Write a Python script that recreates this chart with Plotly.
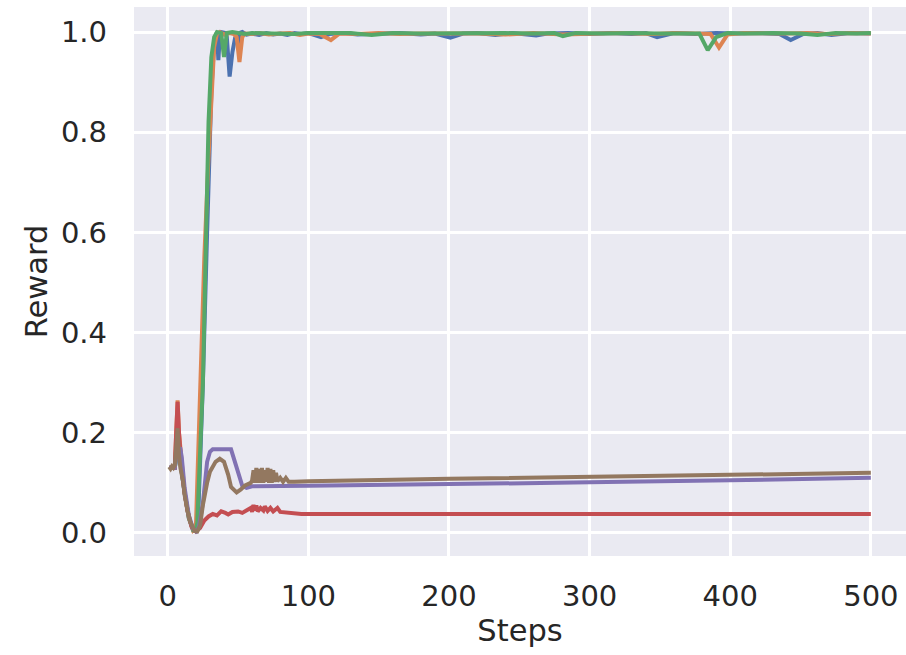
import plotly.graph_objects as go

# ---- data (step, reward) ----
blue_steps = [1, 5, 7, 9, 12, 15, 18, 20, 22, 25, 28, 31, 33, 35, 36, 37, 38, 41, 42, 44, 46, 48, 50, 51, 53, 56, 60, 65, 70, 75, 80, 85, 90, 95, 100, 109, 115, 125, 135, 150, 165, 180, 190, 201, 210, 220, 233, 245, 255, 262, 270, 285, 300, 315, 330, 340, 348, 360, 375, 390, 405, 420, 435, 443, 452, 462, 472, 485, 500]
blue_vals = [0.13, 0.13, 0.17, 0.14, 0.08, 0.03, 0.006, 0.004, 0.06, 0.3, 0.6, 0.88, 0.98, 1.0, 0.944, 0.99, 1.0, 0.998, 0.99, 0.911, 0.96, 0.99, 0.977, 0.998, 1.0, 0.995, 0.997, 0.994, 0.998, 0.995, 0.997, 0.994, 0.998, 0.996, 0.998, 0.99, 0.996, 0.998, 0.995, 0.997, 0.998, 0.995, 0.997, 0.989, 0.997, 0.998, 0.994, 0.998, 0.996, 0.993, 0.997, 0.998, 0.996, 0.998, 0.996, 0.998, 0.99, 0.998, 0.996, 0.998, 0.997, 0.998, 0.996, 0.984, 0.996, 0.998, 0.994, 0.998, 0.997]

orange_steps = [1, 5, 6, 7, 8, 10, 12, 15, 18, 20, 23, 26, 29, 31, 33, 35, 37, 40, 44, 47, 49, 51, 53, 55, 60, 65, 72, 80, 87, 94, 100, 108, 116, 122, 135, 150, 165, 180, 200, 220, 240, 260, 281, 300, 320, 346, 360, 375, 386, 392, 398, 410, 425, 439, 455, 470, 485, 500]
orange_vals = [0.13, 0.13, 0.2, 0.265, 0.2, 0.13, 0.08, 0.03, 0.005, 0.01, 0.275, 0.55, 0.75, 0.88, 0.97, 0.997, 1.0, 0.995, 0.998, 0.996, 0.99, 0.94, 0.99, 0.997, 0.996, 0.998, 0.995, 0.997, 0.998, 0.994, 0.997, 0.996, 0.984, 0.997, 0.996, 0.998, 0.996, 0.997, 0.998, 0.997, 0.995, 0.998, 0.995, 0.997, 0.998, 0.996, 0.998, 0.997, 0.996, 0.969, 0.995, 0.998, 0.997, 0.997, 0.998, 0.996, 0.998, 0.997]

green_steps = [1, 5, 7, 9, 12, 15, 18, 20, 21, 25, 29, 31, 33, 35, 38, 40, 42, 46, 50, 55, 60, 70, 80, 90, 100, 115, 130, 145, 160, 180, 200, 220, 240, 260, 275, 281, 290, 310, 330, 350, 365, 378, 384, 390, 398, 410, 430, 450, 462, 475, 490, 500]
green_vals = [0.13, 0.13, 0.17, 0.14, 0.08, 0.03, 0.006, 0.008, 0.02, 0.3, 0.82, 0.95, 0.99, 1.0, 0.998, 0.95, 0.998, 1.0, 0.998, 0.996, 0.998, 0.997, 0.998, 0.996, 0.998, 0.997, 0.998, 0.994, 0.998, 0.997, 0.998, 0.997, 0.998, 0.997, 0.998, 0.992, 0.998, 0.997, 0.998, 0.997, 0.998, 0.997, 0.964, 0.99, 0.998, 0.997, 0.998, 0.997, 0.994, 0.998, 0.997, 0.998]

red_steps = [1, 5, 6, 7, 8, 10, 12, 14, 17, 20, 23, 26, 29, 32, 35, 38, 41, 43, 46, 50, 53, 57, 59, 60, 61, 62, 63, 64, 66, 68, 69, 71, 73, 75, 78, 80, 84, 88, 95, 200, 300, 400, 500]
red_vals = [0.13, 0.13, 0.2, 0.262, 0.2, 0.122, 0.08, 0.045, 0.012, 0.003, 0.01, 0.025, 0.033, 0.038, 0.035, 0.043, 0.04, 0.037, 0.042, 0.043, 0.04, 0.047, 0.05, 0.042, 0.056, 0.045, 0.055, 0.043, 0.05, 0.045, 0.053, 0.044, 0.05, 0.043, 0.05, 0.042, 0.041, 0.038, 0.038, 0.038, 0.038, 0.038, 0.038]

purple_steps = [1, 5, 7, 9, 10, 12, 15, 18, 20, 22, 25, 28, 30, 32, 45, 47, 50, 53, 56, 60, 100, 200, 300, 400, 500]
purple_vals = [0.13, 0.13, 0.17, 0.168, 0.15, 0.09, 0.035, 0.008, 0.003, 0.01, 0.06, 0.142, 0.162, 0.167, 0.167, 0.15, 0.125, 0.094, 0.09, 0.093, 0.094, 0.097, 0.101, 0.105, 0.11]

brown_steps = [1, 2, 3, 4, 5, 6, 7, 8, 9, 11, 12, 14, 16, 19, 21, 23, 25, 28, 30, 34, 37, 40, 43, 45, 49, 52, 55, 59, 60, 61, 62, 63, 64, 65, 66, 67, 68, 69, 70, 71, 72, 73, 74, 75, 76, 77, 78, 80, 82, 84, 86, 90, 100, 200, 300, 400, 500]
brown_vals = [0.132, 0.128, 0.133, 0.13, 0.135, 0.17, 0.209, 0.156, 0.13, 0.102, 0.076, 0.045, 0.023, 0.004, 0.003, 0.015, 0.056, 0.1, 0.122, 0.142, 0.148, 0.142, 0.116, 0.092, 0.081, 0.087, 0.095, 0.1, 0.105, 0.125, 0.1, 0.13, 0.1, 0.128, 0.1, 0.13, 0.1, 0.125, 0.102, 0.13, 0.1, 0.128, 0.1, 0.125, 0.102, 0.12, 0.103, 0.11, 0.102, 0.11, 0.102, 0.102, 0.103, 0.108, 0.112, 0.116, 0.12]

x_ticks = [0, 100, 200, 300, 400, 500]
y_ticks = [0.0, 0.2, 0.4, 0.6, 0.8, 1.0]

series = [
    ("run 1", blue_steps, blue_vals, "#4C72B0"),
    ("run 2", orange_steps, orange_vals, "#DD8452"),
    ("run 3", green_steps, green_vals, "#55A868"),
    ("run 4", red_steps, red_vals, "#C44E52"),
    ("run 5", purple_steps, purple_vals, "#8172B3"),
    ("run 6", brown_steps, brown_vals, "#937860"),
]

fig = go.Figure()
for name, xs, ys, col in series:
    fig.add_trace(go.Scatter(x=xs, y=ys, mode="lines", name=name,
                             line=dict(color=col, width=4), showlegend=False))

font_fam = "DejaVu Sans"
fig.update_layout(
    width=906, height=655,
    margin=dict(l=134, r=0, t=7, b=99),
    paper_bgcolor="white",
    plot_bgcolor="#EAEAF2",
    font=dict(family=font_fam, color="#262626", size=29),
)
fig.update_xaxes(
    range=[-24, 525], tickvals=x_ticks, ticktext=[str(v) for v in x_ticks],
    showgrid=True, gridcolor="white", gridwidth=2.5, zeroline=False,
    showline=False, ticks="", ticklabelstandoff=20, automargin=False,
    tickfont=dict(size=29, color="#262626"),
    title=dict(text="Steps", font=dict(size=30.5, color="#262626"), standoff=6),
)
fig.update_yaxes(
    range=[-0.046, 1.05], tickvals=y_ticks, ticktext=[f"{v:.1f}" for v in y_ticks],
    showgrid=True, gridcolor="white", gridwidth=2.5, zeroline=False,
    showline=False, ticks="", ticklabelstandoff=26, automargin=False,
    tickfont=dict(size=29, color="#262626"),
    title=dict(text="Reward", font=dict(size=30.5, color="#262626"), standoff=4),
)

fig.write_html("out.html", config={"displayModeBar": False},
               post_script="document.body.style.margin='0';document.body.style.overflow='hidden';")
